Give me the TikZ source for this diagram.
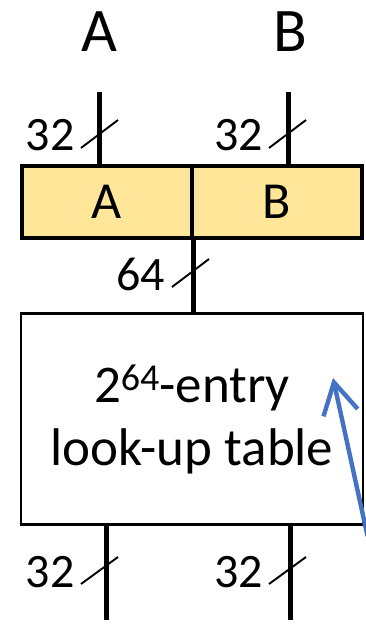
\documentclass[tikz,border=0pt]{standalone}
\usepackage{fontspec}
\setmainfont{Carlito}
\usetikzlibrary{arrows.meta}
\definecolor{regfill}{HTML}{FFE699}
\definecolor{noteblue}{HTML}{4472C4}
\newcommand{\powsup}[1]{\raisebox{12pt}{\fontsize{38}{38}\selectfont #1}}

\begin{document}
\begin{tikzpicture}[x=1pt,y=-1pt,
  wire/.style={line width=5pt},
  tick/.style={line width=1.9pt},
  reg/.style={draw, line width=3.4pt, fill=regfill, minimum width=170pt,
    minimum height=72pt, inner sep=0pt, font=\fontsize{52}{52}\selectfont},
  lut/.style={draw, line width=2.5pt, fill=white, minimum width=342pt,
    minimum height=211pt, inner sep=0pt, align=center,
    font=\fontsize{53}{63}\selectfont},
  busw/.style={font=\fontsize{48}{48}\selectfont, inner sep=0pt},
  inlabel/.style={font=\fontsize{62}{62}\selectfont, inner sep=0pt},
  note/.style={draw=noteblue, line width=4.4pt,
    -{Straight Barb[length=31pt, width=35pt, line cap=butt]}}]
  \useasboundingbox (0,0) rectangle (365,627);

  % input names
  \node[inlabel] (nameA) at (99.5,32) {A};
  \node[inlabel] (nameB) at (290,32) {B};

  % register holding the two halves
  \node[reg] (regA) at (107,202) {A};
  \node[reg] (regB) at (277,202) {B};

  % look-up table
  \node[lut] (table) at (192,419) {2\powsup{64}-entry\\look-up table};

  % free ends of the wires
  \coordinate (inA) at (99,92);
  \coordinate (inB) at (288,92);
  \coordinate (join) at (193,238);
  \coordinate (outA) at (106,620);
  \coordinate (outB) at (290,620);

  % wires
  \draw[wire] (inA) -- (inA |- regA.north);
  \draw[wire] (inB) -- (inB |- regB.north);
  \draw[wire] (join) -- (join |- table.north);
  \draw[wire] (outA |- table.south) -- (outA);
  \draw[wire] (outB |- table.south) -- (outB);

  % bus widths
  \node[busw] (wA) at (50,135) {32};
  \node[busw] (wB) at (238.5,135) {32};
  \node[busw] (wJ) at (140.5,274) {64};
  \node[busw] (wOA) at (50,572) {32};
  \node[busw] (wOB) at (238.5,572) {32};

  \draw[tick] (81,148) -- (118,120);
  \draw[tick] (269,148) -- (306,120);
  \draw[tick] (172,287) -- (209,259);
  \draw[tick] (81,584) -- (118,557);
  \draw[tick] (269,584) -- (306,557);

  % pointer into the table
  \coordinate (tail) at (367.5,536);
  \coordinate (tip) at (333,378);
  \draw[note] (tail) -- (tip);
\end{tikzpicture}
\end{document}
